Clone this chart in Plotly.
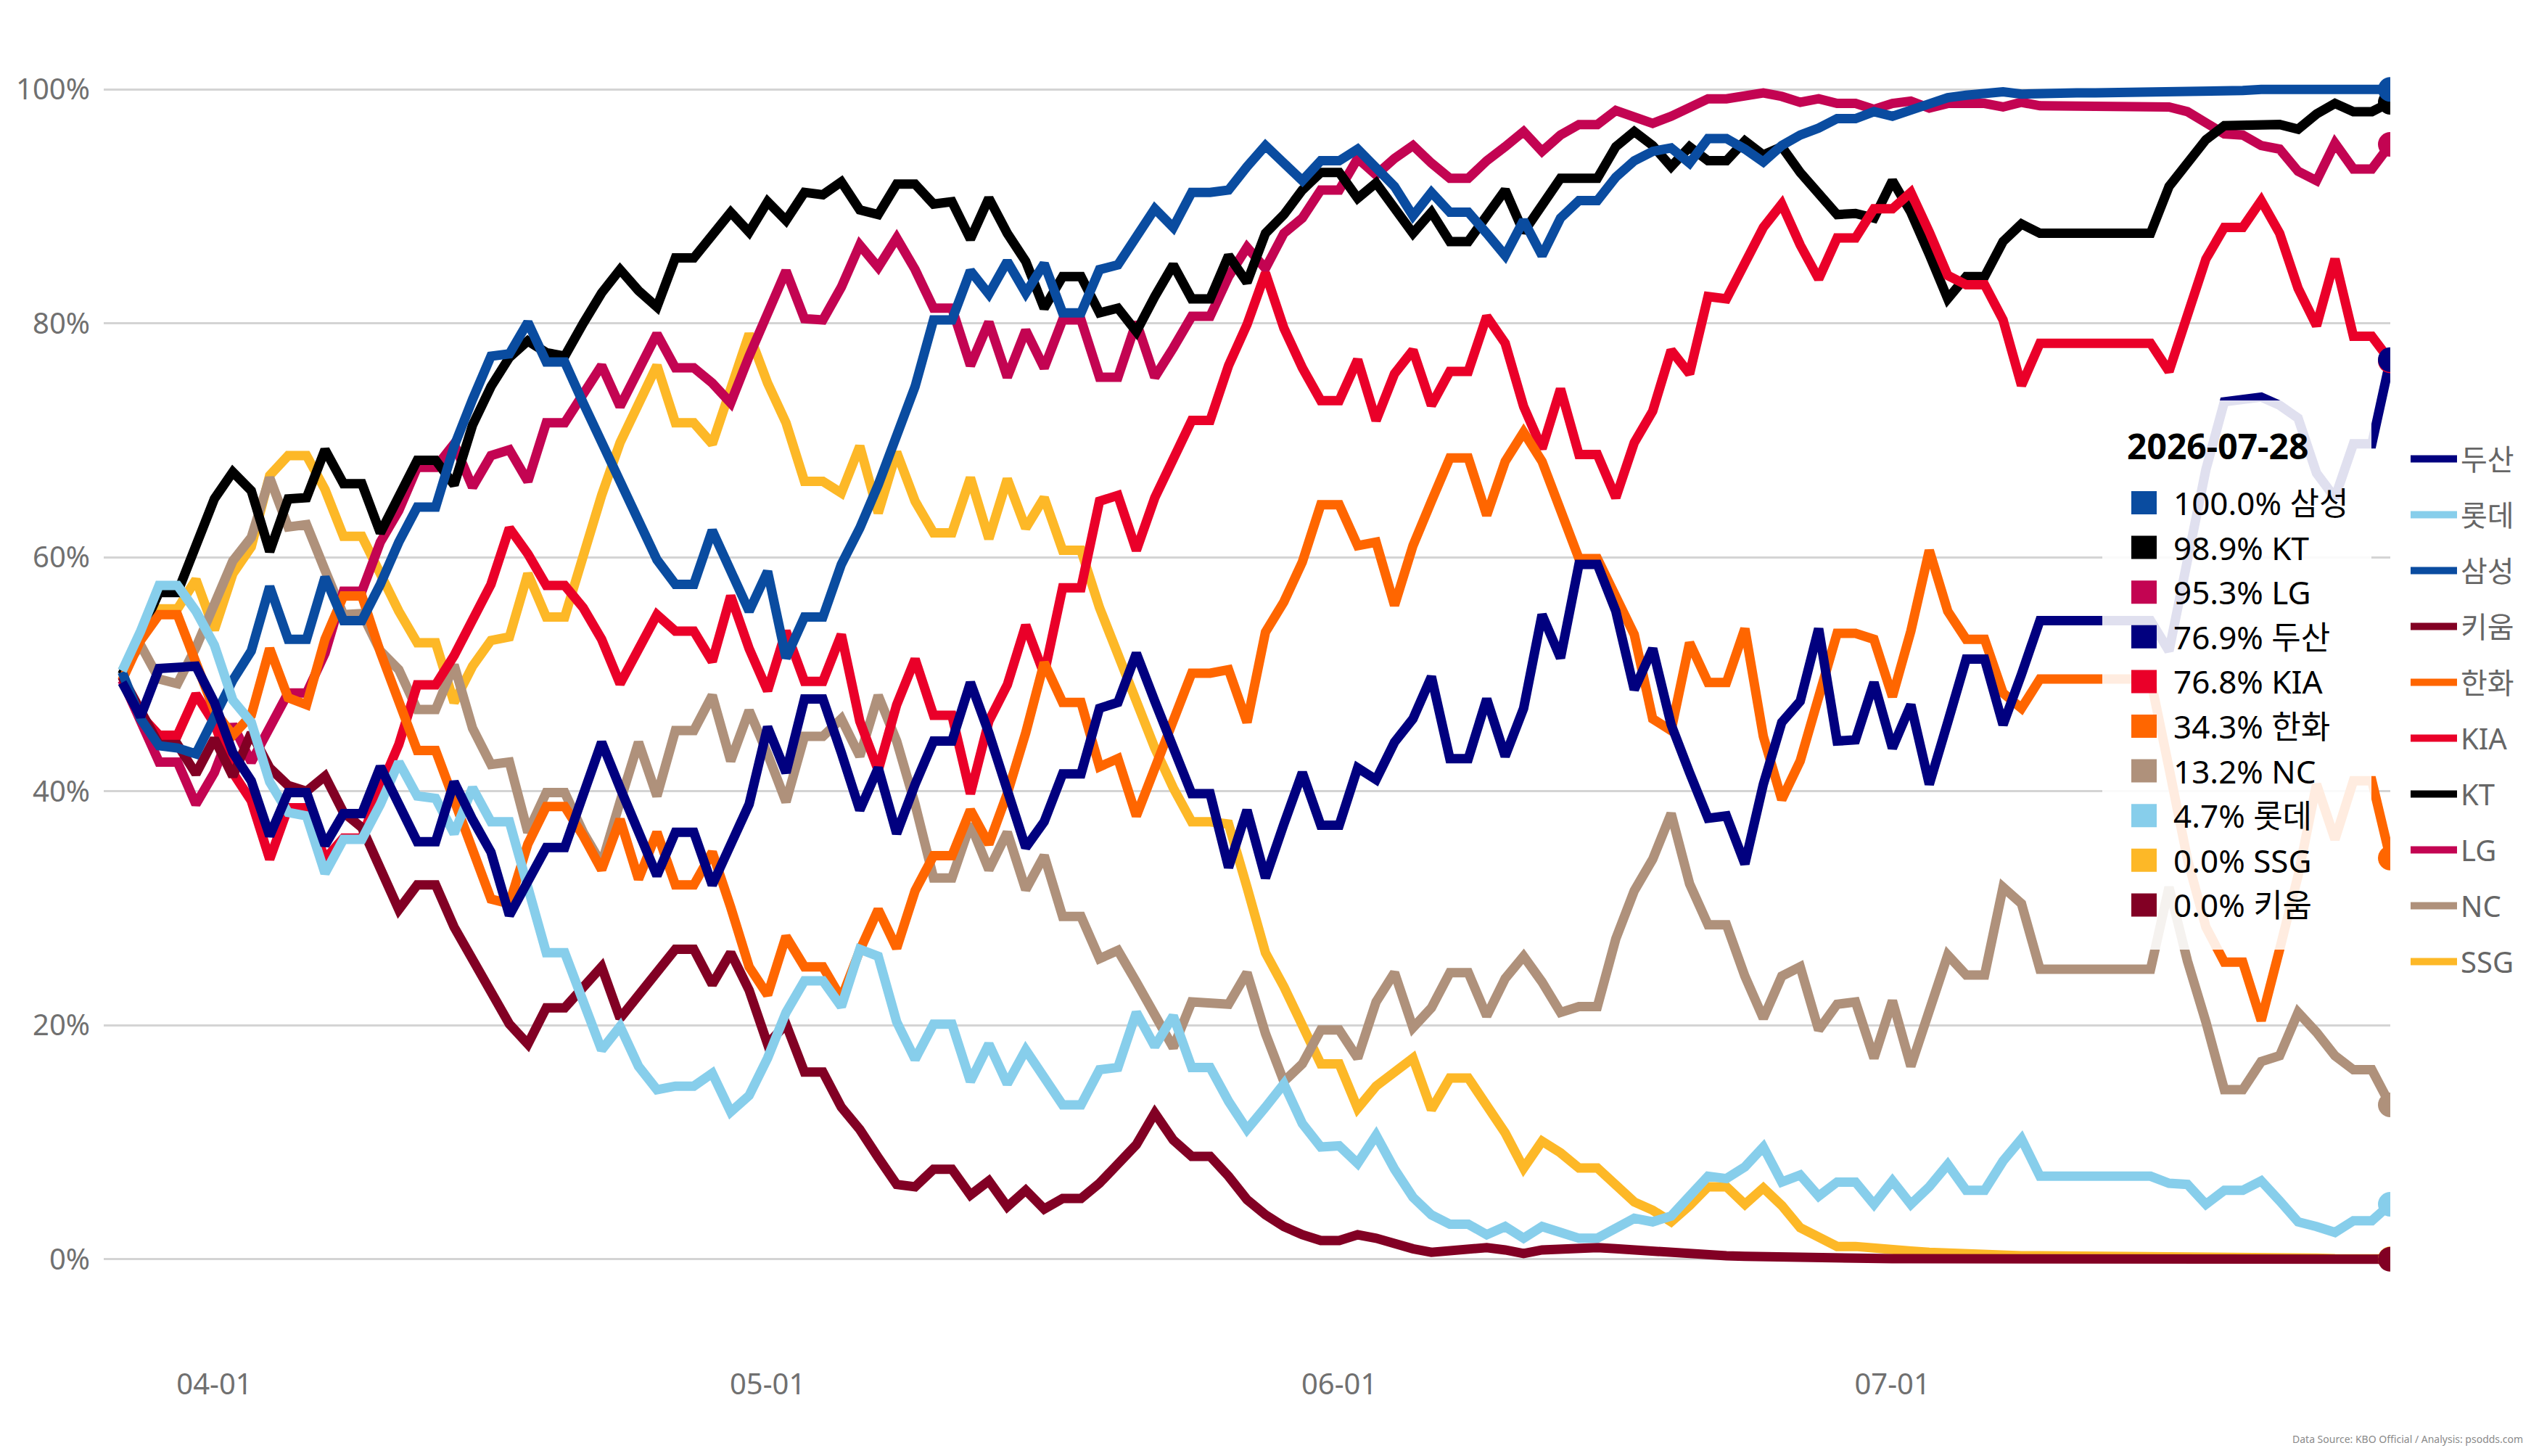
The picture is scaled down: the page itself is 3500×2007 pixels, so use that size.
import pandas as pd
import plotly.graph_objects as go

# ---------------- data ----------------
start_date = "2026-03-27"
end_date = "2026-07-28"
dates = pd.date_range(start_date, end_date, freq="D")

teams = ["두산", "롯데", "삼성", "키움", "한화", "KIA", "KT", "LG", "NC", "SSG"]
colors = {
    "두산": "#01007F", "롯데": "#87CEEB", "삼성": "#0A4CA0", "키움": "#820024",
    "한화": "#FF6600", "KIA": "#EA0029", "KT": "#000000", "LG": "#C30452",
    "NC": "#AF917B", "SSG": "#FDB827",
}

kt = [50.0, 53.5, 57.0, 57.0, 61.0, 65.0, 67.3, 65.7, 60.5, 65.0,
      65.1, 69.2, 66.3, 66.3, 62.1, 65.3, 68.3, 68.3, 66.2, 71.3,
      74.6, 77.1, 78.5, 77.5, 77.2, 80.0, 82.6, 84.6, 82.8, 81.4,
      85.6, 85.6, 87.7, 89.5, 87.8, 90.4, 88.8, 91.2, 91.0, 92.1,
      89.7, 89.3, 91.9, 91.9, 90.2, 90.4, 87.2, 90.7, 87.7, 85.3,
      81.3, 84.0, 84.0, 80.9, 81.3, 79.3, 82.3, 85.0, 82.1, 82.1,
      85.8, 83.5, 87.7, 89.3, 91.4, 92.9, 92.9, 90.7, 92.0, 89.7,
      87.7, 89.5, 87.0, 87.0, 89.3, 91.4, 87.8, 90.2, 92.4, 92.4,
      92.4, 95.1, 96.4, 95.2, 93.4, 95.1, 93.9, 93.9, 95.6, 94.4,
      95.1, 92.9, 91.2, 89.3, 89.4, 89.0, 92.2, 89.5, 85.9, 82.1,
      84.0, 84.0, 87.0, 88.5, 87.7, 87.7, 87.7, 87.7, 87.7, 87.7,
      87.7, 91.7, 93.7, 95.7, 96.9, 96.9, 97.0, 97.0, 96.6, 97.9,
      98.8, 98.1, 98.1, 98.9]

samsung = [50.2, 46.2, 43.9, 43.7, 43.2, 46.2, 49.5, 52.0, 57.5, 53.0,
           53.0, 58.3, 54.6, 54.6, 57.7, 61.3, 64.3, 64.3, 69.5, 73.5,
           77.2, 77.4, 80.1, 76.7, 76.7, 73.2, 69.8, 66.2, 63.1, 59.8,
           57.7, 57.7, 62.3, 58.9, 55.4, 58.8, 51.4, 54.9, 54.9, 59.4,
           62.5, 66.2, 70.7, 74.6, 80.3, 80.3, 84.5, 82.5, 85.3, 82.6,
           85.1, 80.9, 80.9, 84.6, 85.0, 87.3, 89.8, 88.2, 91.2, 91.2,
           91.4, 93.4, 95.2, 93.7, 92.2, 93.9, 93.9, 94.9, 93.2, 91.7,
           89.2, 91.2, 89.5, 89.5, 87.7, 85.8, 88.8, 85.8, 89.0, 90.5,
           90.5, 92.5, 93.9, 94.7, 95.0, 93.7, 95.8, 95.8, 94.9, 93.8,
           95.2, 96.1, 96.7, 97.5, 97.5, 98.1, 97.7, 98.3, 98.8, 99.3,
           99.5, 99.6, 99.8, 99.6, 99.7, 99.7, 99.7, 99.7, 99.7, 99.7,
           99.7, 99.9, 99.9, 99.9, 99.9, 99.9, 100.0, 100.0, 100.0, 100.0,
           100.0, 100.0, 100.0, 100.0]

lg = [49.5, 46.0, 42.5, 42.5, 38.9, 41.6, 45.7, 42.5, 45.4, 48.4,
      48.4, 51.8, 57.1, 57.1, 61.3, 64.0, 67.7, 67.7, 69.7, 66.0,
      68.7, 69.2, 66.5, 71.5, 71.5, 73.9, 76.4, 72.9, 75.9, 79.1,
      76.2, 76.2, 74.9, 73.2, 77.2, 80.9, 84.5, 80.4, 80.3, 83.1,
      86.7, 84.8, 87.3, 84.6, 81.3, 81.3, 76.4, 80.1, 75.4, 79.4,
      76.2, 80.3, 80.3, 75.4, 75.4, 80.1, 75.4, 77.9, 80.6, 80.6,
      84.0, 86.5, 84.7, 87.7, 89.0, 91.4, 91.4, 94.1, 92.7, 94.1,
      95.2, 93.7, 92.4, 92.4, 93.9, 95.1, 96.4, 94.7, 96.1, 97.0,
      97.0, 98.2, 97.7, 97.1, 97.7, 98.4, 99.2, 99.2, 99.4, 99.7,
      99.4, 98.9, 99.2, 98.8, 98.8, 98.3, 98.8, 99.0, 98.4, 98.8,
      98.8, 98.8, 98.5, 98.9, 98.6, 98.6, 98.6, 98.6, 98.6, 98.6,
      98.6, 98.5, 98.1, 97.2, 96.2, 96.1, 95.2, 94.9, 93.0, 92.2,
      95.4, 93.2, 93.2, 95.3]

kia = [49.8, 46.5, 44.8, 44.8, 48.3, 45.8, 41.6, 39.2, 34.2, 38.6,
       38.6, 34.2, 36.0, 36.0, 40.3, 44.0, 49.1, 49.1, 51.6, 54.6,
       57.7, 62.5, 60.3, 57.6, 57.6, 55.7, 53.0, 49.2, 52.2, 55.1,
       53.7, 53.7, 51.1, 56.7, 52.2, 48.6, 53.7, 49.4, 49.4, 53.4,
       46.0, 41.8, 47.4, 51.3, 46.5, 46.5, 39.8, 46.0, 49.1, 54.2,
       50.0, 57.4, 57.4, 64.8, 65.3, 60.6, 65.1, 68.2, 71.7, 71.7,
       76.4, 79.9, 84.3, 79.6, 76.2, 73.4, 73.4, 76.9, 71.7, 75.7,
       77.7, 73.0, 75.9, 75.9, 80.6, 78.3, 72.9, 69.3, 74.4, 68.8,
       68.8, 65.1, 69.8, 72.5, 77.7, 75.7, 82.3, 82.1, 85.0, 88.2,
       90.2, 86.7, 83.8, 87.3, 87.3, 89.8, 89.8, 91.2, 87.8, 84.1,
       83.3, 83.3, 80.3, 74.7, 78.3, 78.3, 78.3, 78.3, 78.3, 78.3,
       78.3, 75.9, 80.6, 85.5, 88.2, 88.2, 90.5, 87.7, 83.0, 79.8,
       85.5, 78.9, 78.9, 76.8]

doosan = [49.3, 46.4, 50.5, 50.5, 50.7, 47.6, 43.3, 40.9, 36.2, 39.9,
          39.9, 35.4, 38.1, 38.1, 42.1, 38.9, 35.7, 35.7, 40.8, 37.6,
          34.8, 29.4, 32.3, 35.2, 35.2, 39.6, 44.2, 40.3, 36.4, 32.8,
          36.5, 36.5, 32.0, 35.5, 38.9, 45.5, 41.6, 47.9, 47.9, 43.3,
          38.4, 42.0, 36.4, 40.6, 44.3, 44.3, 49.3, 45.0, 40.4, 35.2,
          37.4, 41.5, 41.5, 47.1, 47.6, 51.8, 47.7, 43.7, 39.8, 39.8,
          33.5, 38.4, 32.6, 37.2, 41.6, 37.1, 37.1, 42.0, 41.0, 44.2,
          46.2, 49.8, 42.8, 42.8, 47.9, 43.0, 47.1, 55.1, 51.4, 59.4,
          59.4, 55.4, 48.7, 52.2, 45.7, 41.6, 37.7, 37.9, 33.8, 40.6,
          45.9, 47.7, 53.9, 44.3, 44.4, 49.3, 43.7, 47.4, 40.6, 45.9,
          51.3, 51.3, 45.7, 50.0, 54.6, 54.6, 54.6, 54.6, 54.6, 54.6,
          54.6, 52.0, 59.9, 67.5, 73.3, 73.4, 73.7, 73.0, 71.9, 67.2,
          65.1, 69.7, 69.7, 76.9]

hanwha = [49.5, 52.9, 55.1, 55.1, 51.0, 46.9, 44.8, 46.5, 52.2, 48.0,
          47.4, 53.0, 56.7, 56.7, 51.9, 47.4, 43.5, 43.5, 39.3, 34.8,
          30.8, 30.4, 35.5, 38.7, 38.7, 36.2, 33.3, 37.6, 32.5, 36.5,
          32.0, 32.0, 34.8, 30.1, 25.0, 22.6, 27.6, 25.0, 25.0, 22.3,
          26.4, 29.9, 26.6, 31.5, 34.5, 34.5, 38.4, 35.5, 39.8, 45.0,
          51.0, 47.6, 47.6, 42.1, 42.8, 37.9, 42.0, 46.5, 50.1, 50.1,
          50.4, 45.9, 53.6, 56.2, 59.6, 64.5, 64.5, 61.0, 61.3, 55.9,
          61.0, 64.8, 68.5, 68.5, 63.6, 68.2, 70.7, 68.2, 64.1, 59.9,
          59.9, 56.7, 53.4, 46.2, 45.2, 52.7, 49.3, 49.3, 53.9, 44.7,
          39.3, 42.6, 48.1, 53.5, 53.5, 53.0, 48.1, 53.7, 60.6, 55.4,
          53.0, 53.0, 48.4, 47.1, 49.6, 49.6, 49.6, 49.6, 49.6, 49.6,
          49.6, 42.0, 34.2, 28.4, 25.4, 25.4, 20.4, 26.5, 32.8, 40.6,
          35.9, 40.9, 40.9, 34.3]

nc = [50.3, 52.5, 49.6, 49.2, 52.3, 56.0, 59.7, 61.7, 66.8, 62.6,
      62.8, 58.9, 55.1, 55.2, 52.0, 50.4, 47.0, 47.0, 50.8, 45.4,
      42.3, 42.5, 36.5, 39.9, 39.9, 36.5, 33.8, 39.1, 44.2, 39.6,
      45.2, 45.2, 48.2, 42.6, 46.9, 43.2, 39.1, 44.7, 44.7, 46.2,
      43.0, 48.2, 44.3, 38.9, 32.6, 32.6, 37.2, 33.3, 36.5, 31.6,
      34.5, 29.3, 29.3, 25.7, 26.4, 23.7, 20.9, 18.1, 22.0, 22.0,
      21.8, 24.5, 19.3, 15.2, 16.7, 19.6, 19.6, 17.2, 22.0, 24.5,
      19.8, 21.5, 24.5, 24.5, 20.8, 24.0, 25.9, 23.7, 21.1, 21.6,
      21.6, 27.4, 31.5, 34.2, 38.1, 32.1, 28.6, 28.6, 24.2, 20.6,
      24.2, 25.0, 19.6, 21.8, 22.0, 17.2, 22.1, 16.5, 21.5, 26.0,
      24.3, 24.3, 31.8, 30.4, 24.8, 24.8, 24.8, 24.8, 24.8, 24.8,
      24.8, 31.8, 25.5, 20.3, 14.5, 14.5, 16.9, 17.4, 21.1, 19.4,
      17.4, 16.2, 16.2, 13.2]

ssg = [50.3, 53.0, 55.6, 55.6, 58.1, 53.8, 58.6, 60.9, 67.0, 68.7,
       68.7, 65.8, 61.8, 61.8, 58.4, 55.4, 52.7, 52.7, 47.6, 50.7,
       52.9, 53.2, 58.6, 54.9, 54.9, 60.1, 65.3, 69.8, 73.2, 76.4,
       71.5, 71.5, 69.7, 74.2, 79.1, 74.9, 71.5, 66.5, 66.5, 65.5,
       69.5, 63.8, 69.0, 64.8, 62.1, 62.1, 66.8, 61.6, 66.7, 62.5,
       65.1, 60.6, 60.6, 55.7, 51.7, 48.1, 43.7, 40.3, 37.4, 37.4,
       37.2, 31.8, 26.2, 23.3, 19.9, 16.7, 16.7, 12.9, 14.8, 16.0,
       17.2, 12.8, 15.5, 15.5, 13.2, 10.8, 7.8, 10.1, 9.1, 7.8,
       7.8, 6.4, 4.9, 4.2, 3.2, 4.6, 6.2, 6.2, 4.7, 6.1,
       4.6, 2.7, 1.8, 1.1, 1.1, 0.9, 0.9, 0.7, 0.6, 0.5,
       0.4, 0.4, 0.3, 0.3, 0.3, 0.3, 0.3, 0.3, 0.3, 0.3,
       0.3, 0.2, 0.2, 0.2, 0.1, 0.1, 0.1, 0.1, 0.1, 0.1,
       0.05, 0.04, 0.04, 0.04]

lotte = [50.3, 53.7, 57.6, 57.6, 55.4, 52.5, 47.8, 45.9, 40.8, 38.2,
         37.9, 33.0, 35.9, 35.9, 38.9, 42.5, 39.6, 39.4, 36.4, 40.3,
         37.4, 37.4, 31.8, 26.2, 26.2, 22.0, 17.9, 19.9, 16.5, 14.5,
         14.8, 14.8, 15.9, 12.6, 14.0, 17.2, 21.1, 23.8, 23.8, 21.6,
         26.5, 25.9, 20.3, 17.1, 20.1, 20.1, 15.2, 18.4, 15.0, 17.9,
         15.4, 13.2, 13.2, 16.2, 16.4, 21.1, 18.2, 20.8, 16.4, 16.4,
         13.5, 11.1, 13.0, 15.0, 11.6, 9.6, 9.7, 8.2, 10.6, 7.7,
         5.3, 3.8, 3.0, 3.0, 2.1, 2.8, 1.8, 2.8, 2.3, 1.8,
         1.8, 2.6, 3.5, 3.2, 3.7, 5.4, 7.1, 6.9, 7.9, 9.6,
         6.6, 7.2, 5.4, 6.6, 6.6, 4.7, 6.7, 4.7, 6.2, 8.1,
         5.9, 5.9, 8.4, 10.3, 7.1, 7.1, 7.1, 7.1, 7.1, 7.1,
         7.1, 6.5, 6.4, 4.7, 5.9, 5.9, 6.7, 5.0, 3.2, 2.8,
         2.3, 3.3, 3.3, 4.7]

kiwoom = [49.8, 46.8, 44.0, 44.0, 41.5, 44.5, 41.3, 45.0, 42.0, 40.5,
          40.0, 41.3, 38.2, 36.9, 33.3, 29.9, 32.0, 32.0, 28.4, 25.5,
          22.8, 20.1, 18.4, 21.5, 21.5, 23.3, 25.0, 20.6, 22.6, 24.3,
          26.5, 26.5, 23.5, 26.2, 23.0, 18.4, 20.1, 16.0, 16.0, 13.0,
          11.1, 8.7, 6.4, 6.2, 7.7, 7.7, 5.5, 6.7, 4.5, 5.9,
          4.3, 5.2, 5.2, 6.5, 8.1, 9.8, 12.5, 10.2, 8.8, 8.8,
          7.1, 5.1, 3.8, 2.8, 2.1, 1.6, 1.6, 2.1, 1.8, 1.3,
          0.9, 0.6, 0.8, 0.8, 1.0, 0.8, 0.5, 0.8, 0.9, 1.0,
          1.0, 0.9, 0.8, 0.6, 0.4, 0.3, 0.3, 0.3, 0.25, 0.2,
          0.2, 0.15, 0.1, 0.1, 0.1, 0.1, 0.05, 0.05, 0.05, 0.05,
          0.05, 0.05, 0.05, 0.05, 0.05, 0.05, 0.05, 0.05, 0.05, 0.05,
          0.05, 0.05, 0.05, 0.05, 0.05, 0.05, 0.05, 0.05, 0.05, 0.05,
          0.05, 0.0, 0.0, 0.0]

series = {
    "두산": doosan, "롯데": lotte, "삼성": samsung, "키움": kiwoom, "한화": hanwha,
    "KIA": kia, "KT": kt, "LG": lg, "NC": nc, "SSG": ssg,
}
y_ticks = [0, 20, 40, 60, 80, 100]
x_ticks = ["2026-04-01", "2026-05-01", "2026-06-01", "2026-07-01"]
x_ticklabels = ["04-01", "05-01", "06-01", "07-01"]

# ---------------- geometry helpers (pixels -> paper) ----------------
W, H = 3500, 2007
L, R, T, B = 143, 205, 91, 126
PW, PH = W - L - R, H - T - B


def px(x):
    return (x - L) / PW


def py(y):
    return (H - B - y) / PH


FONT = "Noto Sans, Noto Sans CJK KR, sans-serif"

fig = go.Figure()

# draw order: first legend entry drawn on top
draw_order = list(reversed(teams))
for t in draw_order:
    fig.add_trace(go.Scatter(
        x=dates, y=series[t], mode="lines", name=t,
        line=dict(color=colors[t], width=13),
        legendgroup=t, legendrank=teams.index(t) + 1,
        hoverinfo="skip",
    ))
for t in draw_order:
    fig.add_trace(go.Scatter(
        x=[dates[-1]], y=[series[t][-1]], mode="markers",
        marker=dict(color=colors[t], size=34), showlegend=False,
        legendgroup=t, hoverinfo="skip",
    ))

shapes = []
annotations = []

# semi-transparent info box
shapes.append(dict(type="rect", xref="paper", yref="paper",
                   x0=px(2898), x1=px(3269), y0=py(1309), y1=py(552),
                   fillcolor="rgba(255,255,255,0.88)", line=dict(width=0),
                   layer="above"))
annotations.append(dict(xref="paper", yref="paper", x=px(2930), y=py(614),
                        xanchor="left", yanchor="middle", showarrow=False,
                        text="<b>2026-07-28</b>",
                        font=dict(family=FONT, size=48, color="#000000")))
ranked = sorted(teams, key=lambda t: -series[t][-1])
for k, t in enumerate(ranked):
    cy = 693 + 61.6 * k
    shapes.append(dict(type="rect", xref="paper", yref="paper",
                       x0=px(2938), x1=px(2973), y0=py(cy + 16), y1=py(cy - 16),
                       fillcolor=colors[t], line=dict(width=0), layer="above"))
    annotations.append(dict(xref="paper", yref="paper", x=px(2994), y=py(cy),
                            xanchor="left", yanchor="middle", showarrow=False,
                            text=f"{series[t][-1]:.1f}% {t}",
                            font=dict(family=FONT, size=44, color="#000000")))

annotations.append(dict(xref="paper", yref="paper", x=px(3480), y=py(1983),
                        xanchor="right", yanchor="middle", showarrow=False,
                        text="Data Source: KBO Official / Analysis: psodds.com",
                        font=dict(family=FONT, size=14, color="#8a8a8a")))

fig.update_layout(
    width=W, height=H,
    margin=dict(l=L, r=R, t=T, b=B),
    paper_bgcolor="white", plot_bgcolor="white",
    font=dict(family=FONT),
    showlegend=True,
    legend=dict(x=px(3318), y=py(600), xanchor="left", yanchor="top",
                font=dict(family=FONT, size=40, color="#666666"),
                tracegroupgap=22, itemwidth=64, bgcolor="rgba(0,0,0,0)",
                traceorder="grouped"),
    shapes=shapes, annotations=annotations,
    xaxis=dict(type="date", range=["2026-03-26", end_date],
               tickvals=x_ticks, ticktext=x_ticklabels,
               showgrid=False, zeroline=False, showline=False,
               tickfont=dict(family=FONT, size=40, color="#707070")),
    yaxis=dict(range=[-9, 102], tickvals=y_ticks,
               ticktext=[f"{v}%" for v in y_ticks],
               showgrid=True, gridcolor="#d4d4d4", gridwidth=2.5,
               zeroline=False, showline=False, ticklabelstandoff=18,
               tickfont=dict(family=FONT, size=40, color="#707070")),
)

fig.write_html("out.html")
